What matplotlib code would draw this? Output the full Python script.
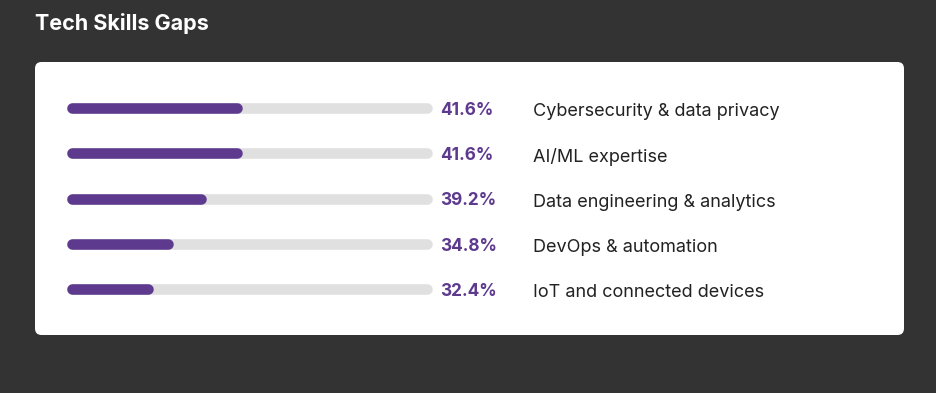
import matplotlib.pyplot as plt
from matplotlib.patches import FancyBboxPatch

# data
skills = [
    "Cybersecurity & data privacy",
    "AI/ML expertise",
    "Data engineering & analytics",
    "DevOps & automation",
    "IoT and connected devices",
]
pct = [41.6, 41.6, 39.2, 34.8, 32.4]
# filled share of the grey track, as drawn in the source
bar_fill = [0.466, 0.466, 0.363, 0.271, 0.215]

PURPLE = "#5d3a8e"
TRACK = "#e0e0e0"
BG = "#333333"

plt.rcParams['font.family'] = ['Inter', 'DejaVu Sans']

W, H = 936, 393
fig = plt.figure(figsize=(W / 100, H / 100), dpi=100, facecolor=BG)

# white card
card = FancyBboxPatch((35 / W, 1 - 335 / H), (904 - 35) / W, (335 - 62) / H,
                      boxstyle="round,pad=0,rounding_size=0.007",
                      transform=fig.transFigure, facecolor="white",
                      edgecolor="none", mutation_aspect=W / H, zorder=-1)
fig.patches.append(card)

fig.text(35 / W, 1 - 23 / H, "Tech Skills Gaps", color="white",
         fontsize=15.5, fontweight="bold", va="center", ha="left")

# axes covering the track area
x0, x1 = 72, 427
y0, y1 = 85.7, 311.6
ax = fig.add_axes([x0 / W, 1 - y1 / H, (x1 - x0) / W, (y1 - y0) / H])
ax.set_zorder(2)
ax.set_xlim(0, 1)
ax.set_ylim(len(skills) - 0.5, -0.5)
ax.axis("off")

lw = 7.6
trans = ax.get_yaxis_transform()
for i, (name, p, f) in enumerate(zip(skills, pct, bar_fill)):
    ax.plot([0, 1], [i, i], color=TRACK, lw=lw, solid_capstyle="round",
            zorder=1, clip_on=False)
    ax.plot([0, f], [i, i], color=PURPLE, lw=lw, solid_capstyle="round",
            zorder=2, clip_on=False)
    ax.text((440 - x0) / (x1 - x0), i + 0.05, f"{p:.1f}%", transform=trans,
            color=PURPLE, fontsize=12.4, fontweight="bold", va="center", ha="left")
    ax.text((533 - x0) / (x1 - x0), i + 0.08, name, transform=trans,
            color="#222222", fontsize=13, va="center", ha="left")

fig.savefig("out.png", dpi=100, facecolor=BG)
